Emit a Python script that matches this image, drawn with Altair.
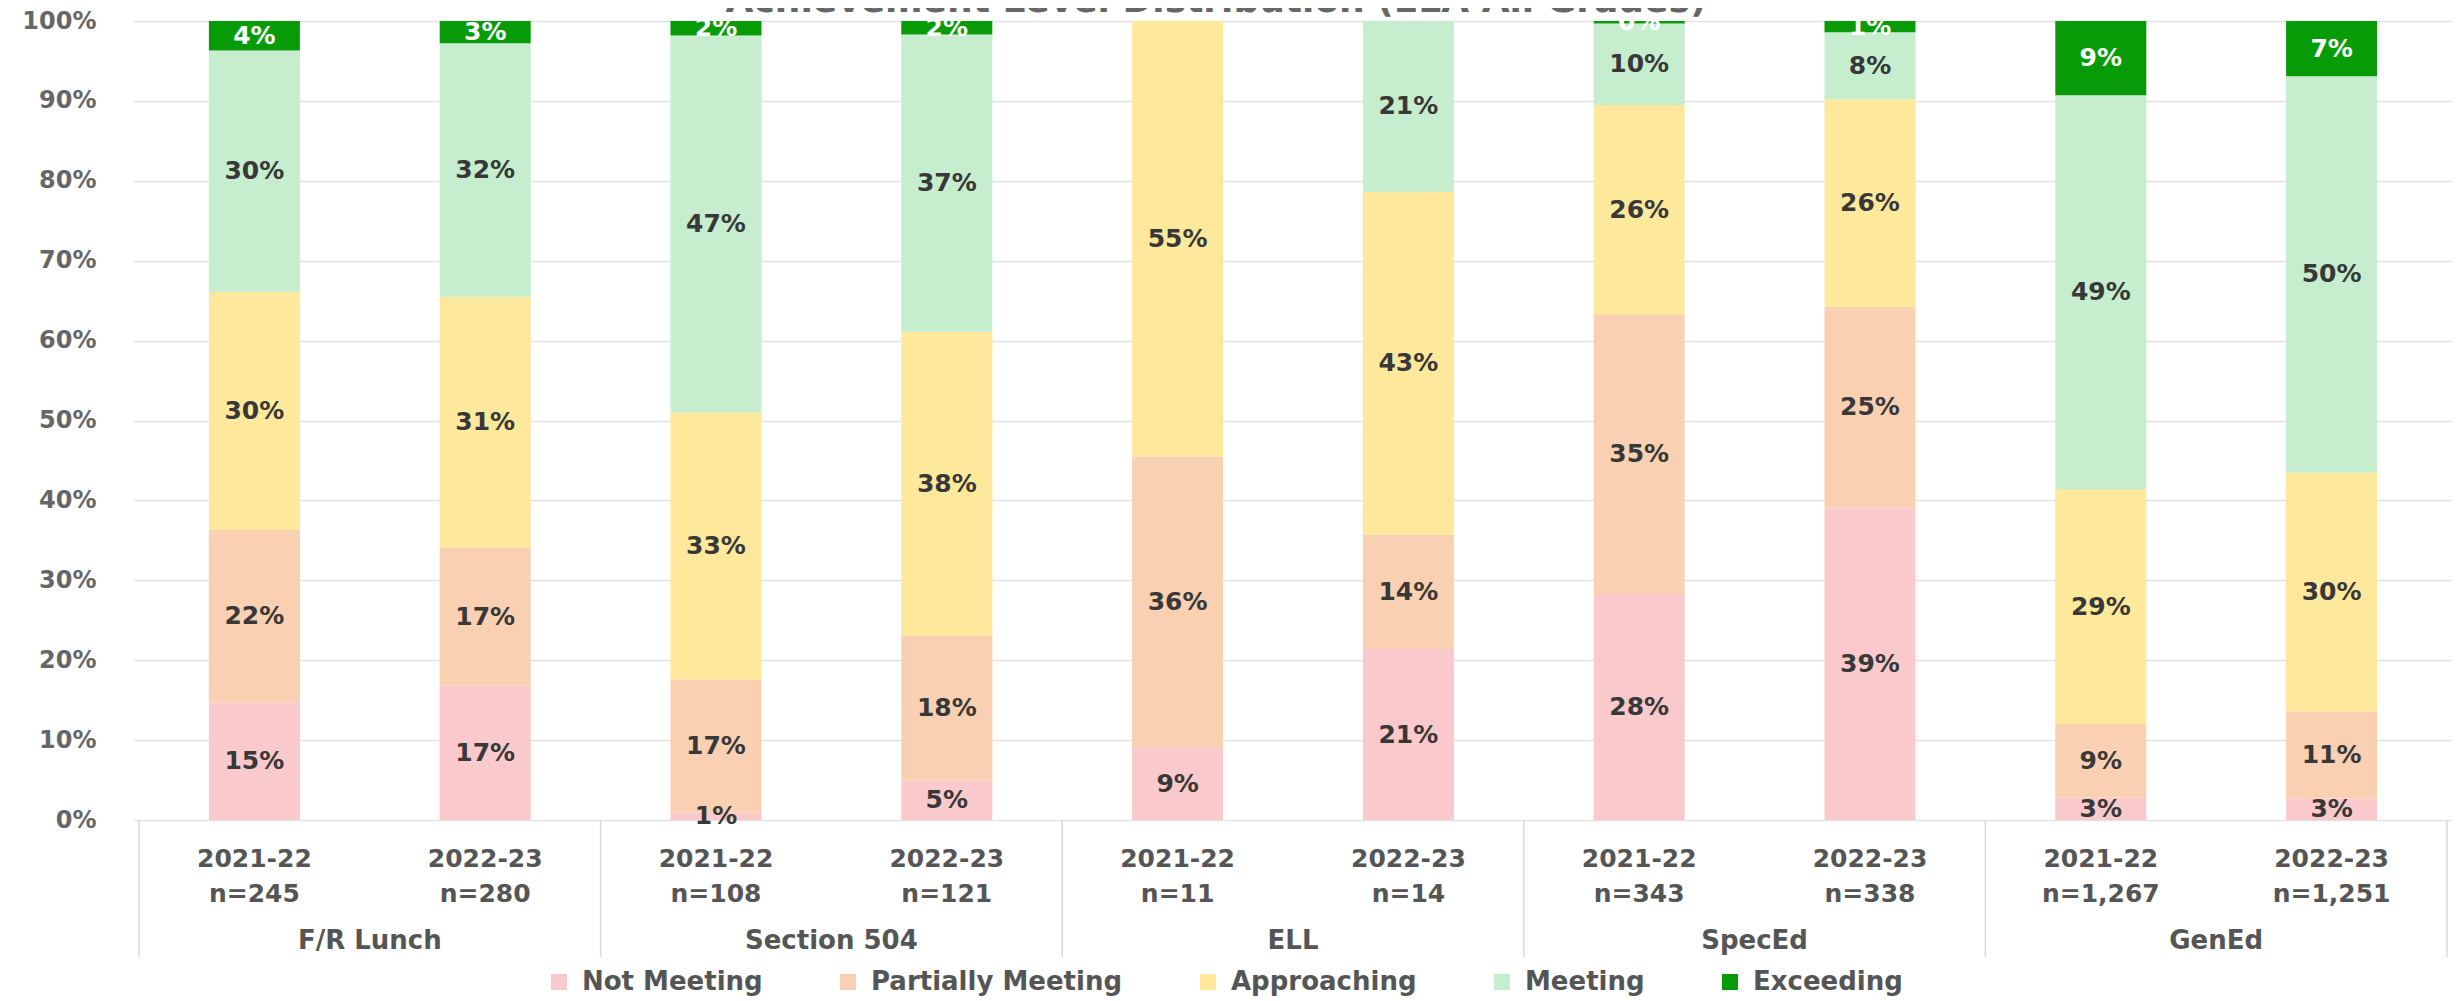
import altair as alt
import pandas as pd

title_text = "Achievement Level Distribution (ELA All Grades)"
groups = ["F/R Lunch", "Section 504", "ELL", "SpecEd", "GenEd"]
years = ["2021-22", "2022-23"]
n_labels = ["n=245", "n=280", "n=108", "n=121", "n=11", "n=14",
            "n=343", "n=338", "n=1,267", "n=1,251"]
levels = ["Not Meeting", "Partially Meeting", "Approaching", "Meeting", "Exceeding"]
colors = ["#FAC9CB", "#F9D0B1", "#FDE89B", "#C5EDCE", "#079B07"]

# percentages per bar (F/R 21-22, F/R 22-23, 504 21-22, 504 22-23, ELL..., SpecEd..., GenEd...)
not_meeting = [14.7, 16.8, 0.9, 4.9, 9.1, 21.4, 28.3, 39.1, 2.8, 2.7]
partially_meeting = [21.6, 17.3, 16.7, 18.2, 36.4, 14.3, 35.0, 25.1, 9.2, 10.9]
approaching = [29.8, 31.4, 33.4, 38.0, 54.5, 42.9, 26.2, 26.0, 29.4, 29.9]
meeting = [30.2, 31.7, 47.2, 37.2, 0.0, 21.4, 10.2, 8.4, 49.3, 49.6]
exceeding = [3.7, 2.8, 1.8, 1.7, 0.0, 0.0, 0.3, 1.4, 9.3, 6.9]

series = [not_meeting, partially_meeting, approaching, meeting, exceeding]

rows, bars = [], []
for gi, g in enumerate(groups):
    for yi, yr in enumerate(years):
        pos = gi * len(years) + yi
        bars.append({"pos": pos, "group": g, "year": yr, "n": n_labels[pos]})
        for li, lv in enumerate(levels):
            rows.append({"pos": pos, "level": lv, "order": li, "value": series[li][pos]})
df = pd.DataFrame(rows)
bars_df = pd.DataFrame(bars)
grp_df = bars_df.groupby("group", sort=False)["pos"].agg(["min", "max"]).reset_index()
grp_df["center"] = (grp_df["min"] + grp_df["max"]) / 2
sep_vals = sorted(set(list(grp_df["min"] - 0.5) + list(grp_df["max"] + 0.5)))
sep_df = pd.DataFrame({"x": sep_vals})
title_df = pd.DataFrame({"t": [title_text]})

W, H = 2318, 799
FONT = "DejaVu Sans"
nbars = len(bars_df)
xscale = alt.Scale(domain=[-0.5, nbars - 0.5], nice=False, zero=False)
yscale = alt.Scale(domain=[0, 100], nice=False)
xenc = alt.X("pos:Q", scale=xscale, axis=None)

base = alt.Chart(df).transform_stack(
    stack="value", groupby=["pos"], sort=[alt.SortField("order")], as_=["v0", "v1"]
)

bar = base.mark_bar(size=91).encode(
    x=xenc,
    y=alt.Y("v0:Q", scale=yscale,
            axis=alt.Axis(values=list(range(0, 101, 10)), labelExpr="datum.value + '%'",
                          title=None, grid=True, domain=False, ticks=False, labelPadding=38)),
    y2="v1:Q",
    color=alt.Color("level:N", scale=alt.Scale(domain=levels, range=colors),
                    legend=alt.Legend(orient="none", legendX=412, legendY=948,
                                      direction="horizontal", columns=5, title=None,
                                      symbolType="square", symbolSize=256,
                                      symbolStrokeWidth=0, labelFont=FONT,
                                      labelFontSize=26, labelFontWeight="bold",
                                      labelColor="#555555", columnPadding=72,
                                      labelOffset=10, labelLimit=600)),
    order=alt.Order("order:Q"),
)

labels = base.transform_filter("datum.value > 0").transform_calculate(
    mid="(datum.v0 + datum.v1) / 2",
    lab="format(datum.value, '.0f') + '%'",
).mark_text(font=FONT, fontSize=25, fontWeight="bold", baseline="middle").encode(
    x=xenc,
    y=alt.Y("mid:Q", scale=yscale),
    text="lab:N",
    color=alt.condition("datum.level == 'Exceeding'", alt.value("white"), alt.value("#383838")),
)

year_text = alt.Chart(bars_df).mark_text(
    font=FONT, fontSize=25, fontWeight="bold", color="#555555", baseline="middle"
).encode(x=xenc, y=alt.value(838), text="year:N")

n_text = alt.Chart(bars_df).mark_text(
    font=FONT, fontSize=25, fontWeight="bold", color="#555555", baseline="middle"
).encode(x=xenc, y=alt.value(873), text="n:N")

group_text = alt.Chart(grp_df).mark_text(
    font=FONT, fontSize=26, fontWeight="bold", color="#555555", baseline="middle"
).encode(x=alt.X("center:Q", scale=xscale, axis=None), y=alt.value(920), text="group:N")

seps = alt.Chart(sep_df).mark_rule(color="#d9d9d9", strokeWidth=1.5).encode(
    x=alt.X("x:Q", scale=xscale, axis=None), y=alt.value(H), y2=alt.value(936)
)

title = alt.Chart(title_df).mark_text(
    font=FONT, fontSize=36, fontWeight="bold", color="#666666", baseline="alphabetic"
).encode(x=alt.value(1082), y=alt.value(-9), text="t:N")

chart = alt.layer(bar, labels, year_text, n_text, group_text, seps, title).properties(
    width=W, height=H,
    autosize=alt.AutoSizeParams(type="none"),
    padding={"left": 126, "top": 13, "right": 0, "bottom": 178},
).configure_view(stroke=None).configure_axis(
    gridColor="#e2e2e2", gridWidth=1.5,
    labelFont=FONT, labelFontSize=24, labelFontWeight="bold", labelColor="#666666",
)

chart.save("out.html", embed_options={"renderer": "svg", "actions": False})
